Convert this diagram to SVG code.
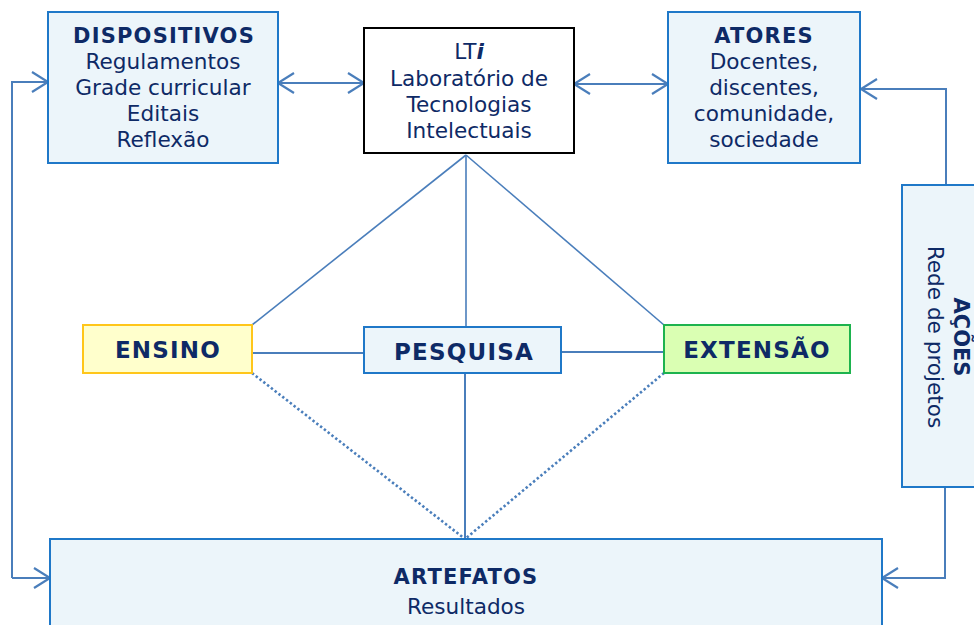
<svg xmlns="http://www.w3.org/2000/svg" width="974" height="625" viewBox="0 0 974 625">
<defs>
<marker id="arr" markerUnits="userSpaceOnUse" markerWidth="24" markerHeight="24" viewBox="-20 -12 24 24" refX="0" refY="0" orient="auto-start-reverse">
<path d="M-16,-10 L0,0 L-16,10" fill="none" stroke="#4A7EBB" stroke-width="2.2"/>
</marker>
<style>
.box{fill:#ECF5FA;stroke:#1F78C8;stroke-width:2}
.t{font-family:"DejaVu Sans",Verdana,sans-serif;fill:#0E2A66;text-anchor:middle}
.h{font-weight:bold;font-size:21px;letter-spacing:1.2px}
.r{font-size:21.6px}
.m{font-weight:bold;font-size:23px;letter-spacing:1.2px}
.c{fill:none;stroke:#4A7EBB;stroke-width:2}
.thin{fill:none;stroke:#4A7EBB;stroke-width:1.6}
.dot{fill:none;stroke:#4A7EBB;stroke-width:2.6;stroke-dasharray:2.4 2.4}
</style>
</defs>
<g id="connectors">
<line class="c" x1="278" y1="83" x2="364" y2="83" marker-start="url(#arr)" marker-end="url(#arr)"/>
<line class="c" x1="574" y1="84" x2="668" y2="84" marker-start="url(#arr)" marker-end="url(#arr)"/>
<polyline class="c" points="946,185 946,89 861,89" marker-end="url(#arr)"/>
<polyline class="c" points="945,487 945,578 882,578" marker-end="url(#arr)"/>
<polyline class="c" points="12,578 12,82 48,82" marker-end="url(#arr)"/>
<line class="c" x1="12" y1="578" x2="50" y2="578" marker-end="url(#arr)"/>
<line class="thin" x1="466" y1="155" x2="252" y2="325"/>
<line class="thin" x1="466" y1="155" x2="664" y2="325"/>
<line class="thin" x1="466" y1="155" x2="466" y2="327"/>
<line class="c" x1="252" y1="353" x2="364" y2="353"/>
<line class="c" x1="561" y1="352" x2="664" y2="352"/>
<line class="c" x1="465" y1="373" x2="465" y2="539"/>
<line class="dot" x1="252" y1="373" x2="465" y2="539"/>
<line class="dot" x1="664" y1="373" x2="465" y2="539"/>
</g>
<g id="dispositivos">
<rect class="box" x="48" y="12" width="230" height="151"/>
<text class="t h" x="164" y="43">DISPOSITIVOS</text>
<text class="t r" x="163" y="69">Regulamentos</text>
<text class="t r" x="163" y="95">Grade curricular</text>
<text class="t r" x="163" y="121">Editais</text>
<text class="t r" x="163" y="147">Reflexão</text>
</g>
<g id="lti">
<rect x="364" y="28" width="210" height="125" fill="#FFFFFF" stroke="#000000" stroke-width="2"/>
<text class="t r" x="469" y="59">LT<tspan font-weight="bold" font-style="italic">i</tspan></text>
<text class="t r" x="469" y="86">Laboratório de</text>
<text class="t r" x="469" y="112">Tecnologias</text>
<text class="t r" x="469" y="138">Intelectuais</text>
</g>
<g id="atores">
<rect class="box" x="668" y="12" width="192" height="151"/>
<text class="t h" x="764" y="43">ATORES</text>
<text class="t r" x="764" y="69">Docentes,</text>
<text class="t r" x="764" y="95">discentes,</text>
<text class="t r" x="764" y="121">comunidade,</text>
<text class="t r" x="764" y="147">sociedade</text>
</g>
<g id="acoes">
<rect class="box" x="902" y="185" width="100" height="302"/>
<g transform="translate(954,337) rotate(90)">
<text class="t" x="0" y="0" font-weight="bold" font-size="21">AÇÕES</text>
<text class="t r" x="0" y="26">Rede de projetos</text>
</g>
</g>
<g id="ensino">
<rect x="83" y="325" width="169" height="48" fill="#FFFFCC" stroke="#FFC61A" stroke-width="2"/>
<text class="t m" x="168" y="358">ENSINO</text>
</g>
<g id="pesquisa">
<rect class="box" x="364" y="327" width="197" height="46"/>
<text class="t m" x="464" y="360">PESQUISA</text>
</g>
<g id="extensao">
<rect x="664" y="325" width="186" height="48" fill="#DAFFB3" stroke="#1DB34E" stroke-width="2"/>
<text class="t m" x="757" y="358" letter-spacing="0.5">EXTENSÃO</text>
</g>
<g id="artefatos">
<rect class="box" x="50" y="539" width="832" height="100"/>
<text class="t h" x="466" y="584" letter-spacing="0.5">ARTEFATOS</text>
<text class="t r" x="466" y="614">Resultados</text>
</g>
</svg>
